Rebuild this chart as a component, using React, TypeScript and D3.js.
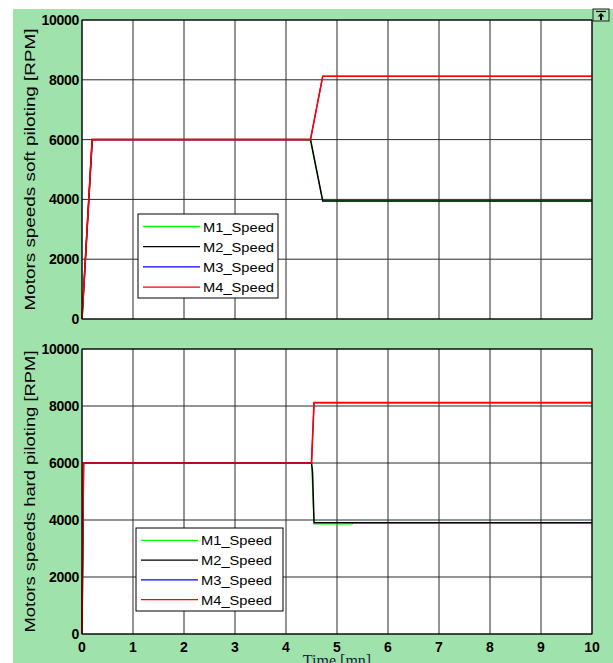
import React from "react";
import * as d3 from "d3";

// time [mn] and speed [RPM] breakpoints for each motor
const softM1: [number, number][] = [[0, 0], [0.2, 6000], [4.48, 6000], [4.72, 3950], [10, 3950]];
const softM2: [number, number][] = [[0, 0], [0.2, 6000], [4.48, 6000], [4.72, 3950], [10, 3950]];
const softM3: [number, number][] = [[0, 0], [0.2, 6000], [4.48, 6000], [4.72, 8120], [10, 8120]];
const softM4: [number, number][] = [[0, 0], [0.2, 6000], [4.48, 6000], [4.72, 8120], [10, 8120]];

const hardM1: [number, number][] = [[0, 0], [0.03, 6000], [4.5, 6000], [4.55, 3860], [5.3, 3860], [5.32, 3900], [10, 3900]];
const hardM2: [number, number][] = [[0, 0], [0.03, 6000], [4.5, 6000], [4.52, 5700], [4.55, 3900], [10, 3900]];
const hardM3: [number, number][] = [[0, 0], [0.03, 6000], [4.5, 6000], [4.55, 8120], [10, 8120]];
const hardM4: [number, number][] = [[0, 0], [0.03, 6000], [4.5, 6000], [4.55, 8120], [10, 8120]];

const seriesNames = ["M1_Speed", "M2_Speed", "M3_Speed", "M4_Speed"];
const seriesColors = ["#00ff00", "#000000", "#0000ff", "#ff0000"];
// later series drawn a bit wider so they fully hide the one underneath
const seriesWidths = [1.1, 1.5, 1.1, 1.6];
const xTicks = [0, 1, 2, 3, 4, 5, 6, 7, 8, 9, 10];
const yTicks = [0, 2000, 4000, 6000, 8000, 10000];

const left = 82;
const right = 592;

const Panel = (props: any) => {
  const { top, bottom, series, label, legend, showX } = props;
  const x = d3.scaleLinear().domain([0, 10]).range([left, right]);
  const y = d3.scaleLinear().domain([0, 10000]).range([bottom, top]);
  const line = d3.line<[number, number]>()
    .x(d => x(d[0]))
    .y(d => y(d[1]));
  const midY = (top + bottom) / 2;
  return (
    <g>
      <rect x={left} y={top} width={right - left} height={bottom - top} fill="#fff" />
      {xTicks.map(t => (
        <line key={"gx" + t} x1={x(t)} x2={x(t)} y1={top} y2={bottom} stroke="#2a2a2a" strokeWidth={1} />
      ))}
      {yTicks.map(t => (
        <line key={"gy" + t} x1={left} x2={right} y1={y(t)} y2={y(t)} stroke="#2a2a2a" strokeWidth={1} />
      ))}
      {series.map((s: [number, number][], i: number) => (
        <path key={"s" + i} d={line(s) || ""} fill="none" stroke={seriesColors[i]} strokeWidth={seriesWidths[i]} />
      ))}
      <rect x={left} y={top} width={right - left} height={bottom - top} fill="none" stroke="#000" strokeWidth={1} />
      {yTicks.map(t => (
        <text key={"ty" + t} x={left - 3} y={y(t) + 5} textAnchor="end"
          fontFamily="Liberation Sans, Arial, sans-serif" fontWeight="bold" fontSize={14}
          letterSpacing={-0.3}>{t}</text>
      ))}
      {showX && xTicks.map(t => (
        <text key={"tx" + t} x={x(t)} y={bottom + 18} textAnchor="middle"
          fontFamily="Liberation Sans, Arial, sans-serif" fontWeight="bold" fontSize={14}>{t}</text>
      ))}
      <text transform={`translate(35,${midY}) rotate(-90)`} textAnchor="middle"
        fontFamily="Liberation Sans, Arial, sans-serif" fontSize={14}
        textLength={282} lengthAdjust="spacingAndGlyphs">{label}</text>
      <rect x={legend.x} y={legend.y} width={legend.w} height={legend.h} fill="#fff" stroke="#000" strokeWidth={1} />
      {seriesNames.map((n, i) => {
        const ly = legend.y + legend.step * (i + 0.62);
        return (
          <g key={n}>
            <line x1={legend.x + 5} x2={legend.x + 62} y1={ly} y2={ly} stroke={seriesColors[i]} strokeWidth={1.3} />
            <text x={legend.x + 65} y={ly + 5} fontFamily="Liberation Sans, Arial, sans-serif" fontSize={13.5}
              textLength={71} lengthAdjust="spacingAndGlyphs">{n}</text>
          </g>
        );
      })}
    </g>
  );
};

const App = () => {
  return (
    <svg width={613} height={663} style={{ position: "absolute", left: 0, top: 0 }}>
      <rect x={0} y={0} width={613} height={663} fill="#fff" />
      <rect x={13} y={9} width={600} height={654} fill="#a0e2ab" />
      <Panel top={20} bottom={319} series={[softM1, softM2, softM3, softM4]}
        label="Motors speeds soft piloting [RPM]"
        legend={{ x: 138, y: 214, w: 140, h: 84, step: 20.2 }} showX={false} />
      <Panel top={349} bottom={634} series={[hardM1, hardM2, hardM3, hardM4]}
        label="Motors speeds hard piloting [RPM]"
        legend={{ x: 136, y: 528, w: 147, h: 83, step: 19.8 }} showX={true} />
      <text x={337} y={666} textAnchor="middle" fontFamily="Liberation Serif, Times New Roman, serif"
        fontSize={16} fill="#1a1a40">Time [mn]</text>
      <rect x={593} y={9} width={16} height={12} fill="#a0e2ab" stroke="#222" strokeWidth={1} />
      <line x1={596} x2={606} y1={11.5} y2={11.5} stroke="#000" strokeWidth={1.2} />
      <path d="M601,13 L597.5,16.5 L600,16.5 L600,20 L602,20 L602,16.5 L604.5,16.5 Z" fill="#000" />
    </svg>
  );
};

export default App;
